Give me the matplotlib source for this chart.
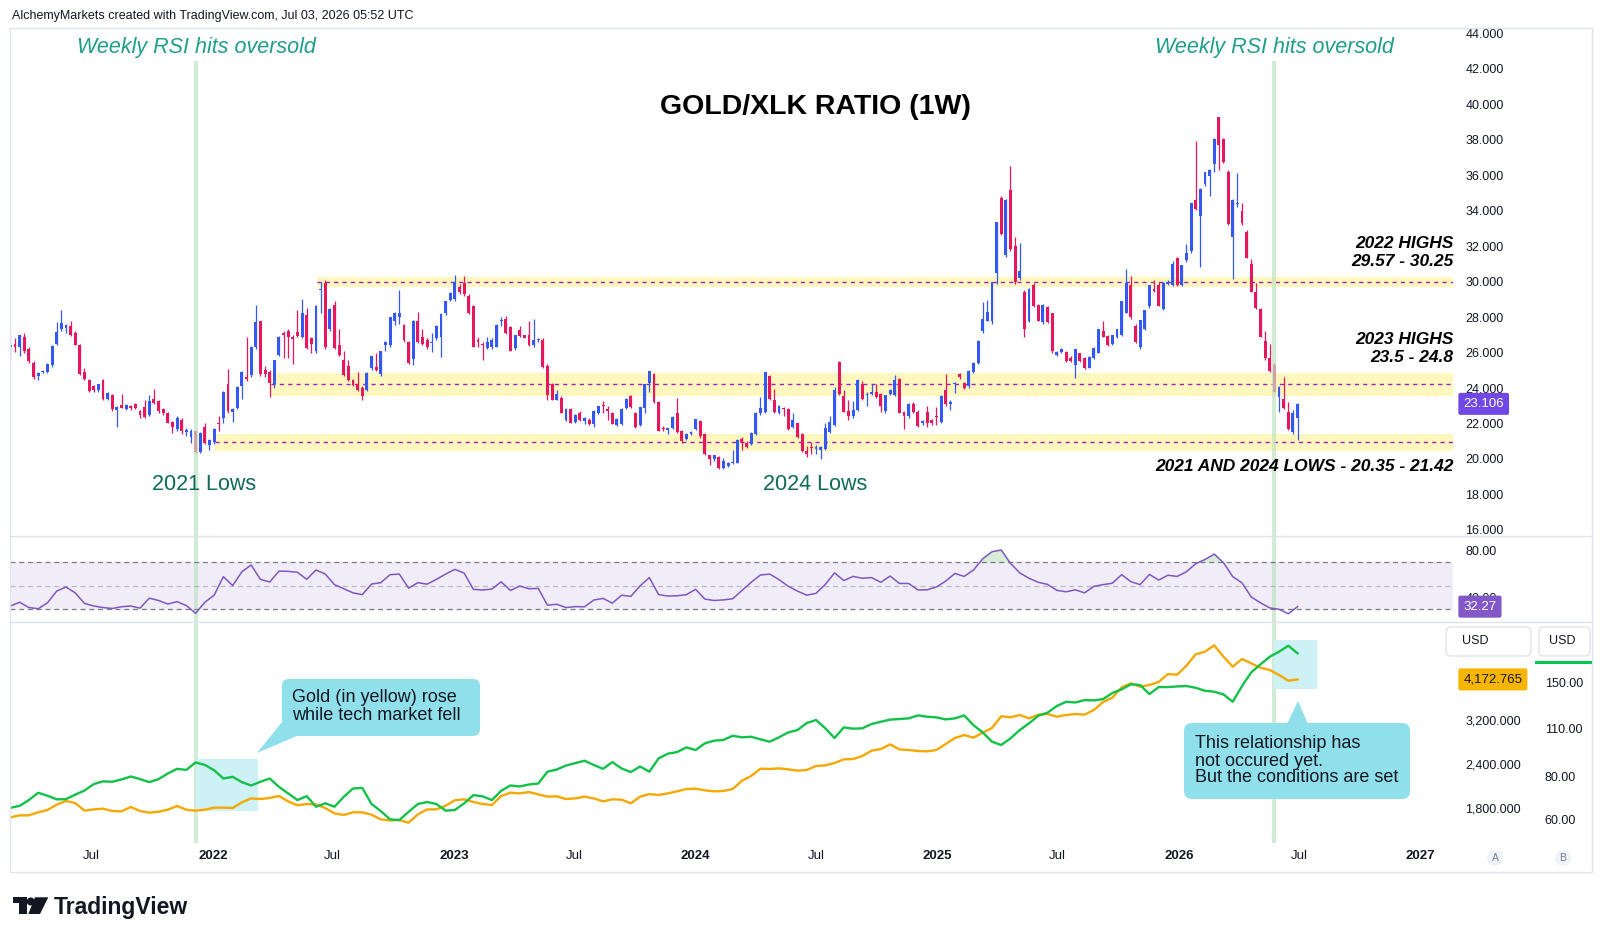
import numpy as np
import pandas as pd
import matplotlib
matplotlib.use("Agg")
import matplotlib.pyplot as plt
import matplotlib.dates as mdates
from matplotlib.ticker import FuncFormatter, NullLocator
from matplotlib.patches import FancyBboxPatch, Polygon, Rectangle, Circle
from matplotlib.lines import Line2D
from matplotlib.transforms import IdentityTransform

# ---- weekly GOLD/XLK candles, first bar 2021-03-01 ----
opens = [
    26.3, 26.5, 26.3, 26.9, 26.2, 25.4, 24.7, 24.9, 24.9, 25.3,
    26.5, 27.3, 27.4, 27.5, 27.1, 26.45, 24.9, 24.45, 24.1, 23.9,
    24.45, 23.4, 23.6, 22.75, 23.05, 22.8, 23.0, 23.1, 22.7, 22.95,
    22.5, 23.4, 23.25, 22.8, 22.6, 22.1, 21.7, 22.2, 21.5, 21.25,
    21.55, 20.4, 21.8, 20.8, 20.95, 22.05, 22.3, 24.2, 22.65, 22.85,
    24.1, 24.6, 24.75, 26.3, 27.75, 25.0, 24.9, 24.25, 25.85, 27.1,
    27.2, 26.9, 27.15, 26.9, 28.1, 26.8, 26.1, 29.5, 29.9, 27.3,
    28.65, 26.45, 25.6, 25.25, 24.45, 24.2, 24.0, 23.9, 25.15, 25.2,
    24.8, 26.4, 26.45, 27.75, 28.0, 27.55, 26.6, 25.65, 27.77, 26.85,
    26.7, 26.55, 26.8, 26.85, 28.25, 28.95, 29.0, 29.7, 29.9, 29.2,
    28.6, 26.7, 26.5, 26.25, 26.3, 26.33, 27.75, 27.9, 27.45, 26.25,
    27.25, 26.98, 26.98, 26.4, 26.7, 26.7, 25.25, 24.25, 23.35, 23.45,
    22.2, 22.8, 22.1, 22.57, 22.16, 22.2, 21.97, 22.6, 23.05, 22.8,
    22.57, 21.9, 21.97, 22.85, 23.55, 22.6, 21.9, 22.9, 24.3, 24.8,
    23.2, 21.75, 21.65, 21.75, 22.57, 21.6, 21.1, 21.4, 21.7, 22.15,
    21.4, 20.2, 19.98, 20.1, 19.47, 19.6, 19.78, 19.8, 21.1, 20.9,
    20.85, 21.4, 22.6, 22.67, 24.68, 23.3, 22.6, 22.85, 22.8, 21.8,
    22.0, 21.4, 20.45, 20.65, 20.58, 20.5, 20.56, 21.5, 21.9, 25.45,
    23.55, 22.7, 22.4, 22.76, 24.2, 23.62, 23.66, 23.75, 23.66, 22.7,
    23.66, 23.6, 24.5, 22.63, 22.4, 23.1, 22.67, 22.05, 22.67, 22.2,
    22.4, 22.1, 23.9, 23.1, 24.2, 24.8, 24.3, 24.1, 24.9, 25.4,
    27.2, 27.8, 27.8, 30.5, 34.7, 31.5, 35.15, 32.0, 30.2, 29.4,
    27.8, 29.8, 28.7, 27.7, 28.55, 28.2, 25.85, 26.05, 26.05, 25.7,
    25.3, 25.95, 25.7, 25.15, 25.7, 26.0, 27.2, 26.95, 26.5, 26.85,
    27.0, 28.25, 29.8, 27.5, 26.3, 27.3, 28.6, 29.6, 29.8, 28.45,
    29.85, 29.8, 31.3, 29.8, 31.2, 31.7, 34.6, 33.7, 35.5, 35.95,
    36.6, 39.29, 38.06, 36.2, 32.5, 34.35, 34.0, 32.8, 30.97, 29.4,
    28.45, 26.67, 25.67, 25.3, 23.5, 23.36, 22.67, 21.5, 22.3,
]
highs = [
    27.1, 26.8, 27.0, 27.1, 26.3, 25.5, 24.9, 25.0, 25.4, 26.4,
    27.7, 28.4, 27.6, 27.8, 27.2, 26.5, 25.1, 24.5, 24.15, 24.25,
    24.5, 23.75, 23.65, 23.0, 23.65, 23.1, 23.05, 23.15, 22.75, 23.3,
    23.6, 23.95, 23.3, 22.85, 22.65, 22.15, 22.45, 22.3, 21.75, 21.7,
    21.6, 21.5, 22.0, 21.1, 21.75, 22.4, 23.85, 25.05, 22.9, 24.1,
    24.95, 26.9, 26.35, 28.65, 27.8, 25.25, 25.0, 25.6, 26.95, 27.2,
    27.35, 27.0, 28.4, 29.0, 28.5, 26.9, 28.65, 30.0, 30.1, 28.5,
    28.9, 27.3, 26.1, 25.6, 24.5, 24.9, 24.1, 24.9, 25.8, 26.0,
    26.1, 26.65, 28.0, 28.3, 29.5, 27.6, 26.65, 27.85, 28.3, 27.35,
    26.8, 27.1, 27.55, 28.2, 28.9, 29.4, 30.35, 29.85, 30.3, 29.3,
    28.7, 26.85, 26.6, 26.9, 26.8, 27.6, 28.0, 28.05, 27.5, 27.0,
    27.5, 27.0, 27.8, 27.9, 26.8, 26.8, 25.35, 24.3, 23.9, 23.55,
    22.85, 22.85, 22.55, 22.7, 22.35, 22.3, 22.75, 23.0, 23.25, 23.0,
    22.65, 22.3, 22.85, 23.45, 23.6, 22.65, 22.95, 24.25, 24.95, 24.85,
    23.25, 21.85, 21.75, 22.4, 23.45, 21.65, 21.45, 21.55, 22.25, 22.2,
    21.45, 20.25, 20.25, 20.15, 20.05, 19.85, 20.5, 21.1, 21.25, 21.0,
    21.5, 22.65, 23.5, 24.9, 24.75, 23.95, 23.05, 22.95, 22.9, 22.6,
    22.05, 21.45, 20.75, 20.95, 20.8, 20.75, 22.05, 22.4, 24.05, 25.5,
    23.9, 23.3, 23.25, 24.5, 24.4, 23.75, 24.2, 24.2, 23.7, 23.6,
    23.95, 24.75, 24.55, 22.7, 23.15, 23.2, 22.75, 22.2, 23.0, 22.25,
    22.95, 23.6, 24.8, 23.3, 24.35, 24.85, 24.35, 25.0, 25.45, 26.7,
    28.85, 28.95, 30.0, 33.35, 34.8, 34.65, 36.5, 32.5, 32.15, 29.5,
    29.65, 29.9, 28.75, 28.75, 28.6, 28.25, 26.1, 26.25, 26.1, 25.8,
    26.2, 26.0, 25.75, 25.8, 26.3, 27.3, 27.75, 27.0, 27.0, 27.35,
    28.9, 30.7, 30.3, 27.6, 27.85, 28.4, 29.8, 30.1, 30.0, 29.95,
    30.1, 31.15, 31.4, 30.95, 32.1, 34.45, 37.9, 35.25, 36.2, 36.35,
    38.1, 39.3, 38.1, 36.3, 34.65, 36.1, 34.45, 32.9, 31.25, 29.9,
    28.5, 27.2, 26.5, 25.4, 24.1, 24.6, 23.2, 22.75, 23.15,
]
lows = [
    25.6, 26.05, 25.8, 26.0, 25.4, 24.5, 24.45, 24.85, 24.85, 25.2,
    26.4, 27.2, 27.1, 26.95, 26.4, 24.75, 24.45, 23.8, 23.75, 23.8,
    23.3, 23.3, 22.7, 21.8, 22.85, 22.75, 22.75, 22.8, 22.3, 22.3,
    22.4, 23.1, 22.6, 22.5, 22.0, 21.45, 21.6, 21.4, 21.3, 20.9,
    20.35, 20.35, 20.85, 20.5, 20.85, 21.55, 22.0, 22.6, 22.1, 22.8,
    23.4, 24.4, 24.6, 26.2, 24.7, 24.6, 23.5, 24.0, 25.8, 25.7,
    25.7, 25.35, 26.85, 26.8, 26.2, 25.95, 26.0, 28.25, 26.2, 27.2,
    26.2, 25.8, 24.7, 24.4, 24.1, 23.85, 23.3, 23.85, 25.0, 24.95,
    24.7, 26.1, 26.3, 27.55, 27.6, 26.6, 25.35, 25.3, 26.55, 26.4,
    26.2, 26.05, 26.7, 25.75, 28.1, 28.9, 28.9, 29.3, 29.2, 28.15,
    26.3, 26.3, 25.55, 26.2, 26.2, 26.3, 27.5, 27.05, 26.1, 26.15,
    26.9, 26.8, 26.35, 26.3, 26.6, 25.15, 23.3, 23.3, 23.3, 22.6,
    22.15, 22.0, 22.05, 22.15, 21.95, 21.9, 21.8, 22.55, 22.6, 22.2,
    21.95, 21.85, 21.9, 22.8, 22.9, 21.75, 21.85, 22.6, 23.8, 23.15,
    21.55, 21.6, 21.4, 21.7, 21.45, 20.9, 21.05, 21.35, 21.65, 21.2,
    20.25, 19.65, 19.9, 19.45, 19.45, 19.55, 19.7, 19.75, 20.5, 20.6,
    20.8, 21.35, 22.5, 22.6, 23.35, 22.6, 22.55, 22.4, 21.65, 21.75,
    21.2, 20.4, 20.1, 20.3, 20.3, 19.98, 20.5, 21.45, 21.85, 23.6,
    22.65, 22.2, 22.3, 22.7, 23.35, 22.99, 23.6, 23.45, 22.67, 22.6,
    23.6, 23.55, 22.6, 21.7, 22.3, 22.6, 21.8, 21.9, 21.8, 21.9,
    21.9, 22.05, 23.0, 22.75, 23.7, 24.5, 23.95, 24.0, 24.85, 25.35,
    27.1, 27.75, 27.6, 29.85, 32.6, 31.4, 31.7, 29.85, 30.1, 26.9,
    27.7, 28.55, 27.75, 27.6, 27.65, 26.0, 25.8, 25.95, 25.45, 25.45,
    24.55, 25.45, 25.05, 25.1, 25.65, 25.95, 26.85, 26.35, 26.45, 26.8,
    26.95, 28.2, 27.9, 26.55, 26.2, 27.25, 28.5, 29.4, 28.6, 28.4,
    29.8, 29.75, 29.75, 29.75, 31.1, 31.6, 34.05, 30.8, 35.4, 34.8,
    36.2, 36.3, 36.7, 33.2, 30.15, 34.2, 33.2, 31.3, 29.4, 28.45,
    26.85, 25.6, 24.9, 23.75, 22.65, 22.8, 21.65, 21.4, 21.07,
]
closes = [
    26.4, 26.3, 27.0, 26.1, 25.5, 24.6, 24.85, 24.95, 25.35, 26.35,
    27.15, 27.65, 27.55, 27.0, 26.45, 24.8, 24.5, 23.85, 23.9, 24.2,
    23.4, 23.7, 22.8, 22.95, 22.9, 23.05, 22.9, 22.85, 22.5, 22.35,
    23.25, 23.15, 22.7, 22.6, 22.05, 21.8, 22.3, 21.55, 21.65, 21.6,
    20.4, 21.45, 20.9, 21.05, 21.7, 21.95, 23.8, 22.7, 22.8, 24.05,
    24.9, 24.5, 26.3, 27.7, 24.8, 24.8, 24.3, 25.55, 26.9, 27.0,
    26.85, 26.75, 26.95, 28.2, 26.25, 26.5, 28.6, 29.6, 26.3, 28.45,
    26.25, 25.85, 24.75, 24.45, 24.15, 23.9, 23.55, 24.85, 25.8, 25.0,
    26.1, 26.6, 28.0, 28.2, 28.25, 26.7, 25.4, 27.8, 26.6, 26.5,
    26.3, 26.6, 27.5, 28.15, 28.9, 29.35, 29.95, 29.4, 29.3, 28.2,
    26.33, 26.6, 26.4, 26.6, 26.7, 27.55, 27.8, 27.1, 26.1, 26.97,
    26.93, 26.83, 26.4, 26.7, 26.75, 25.2, 23.6, 23.35, 23.65, 22.6,
    22.8, 22.05, 22.5, 22.2, 22.3, 21.97, 22.7, 22.98, 22.98, 22.7,
    21.97, 22.25, 22.8, 23.4, 22.95, 21.8, 22.95, 24.2, 24.95, 23.2,
    21.6, 21.7, 21.7, 22.38, 21.5, 21.03, 21.4, 21.5, 22.25, 21.3,
    20.26, 20.0, 20.2, 19.47, 19.9, 19.8, 19.82, 21.07, 20.98, 20.66,
    21.48, 22.6, 22.9, 24.88, 23.38, 22.67, 23.0, 22.8, 21.7, 22.2,
    21.26, 20.45, 20.3, 20.6, 20.62, 20.7, 21.72, 22.07, 23.9, 23.65,
    22.67, 22.45, 22.76, 24.47, 23.4, 23.68, 23.8, 23.5, 22.98, 23.58,
    23.9, 24.45, 22.6, 22.4, 23.1, 22.67, 21.86, 22.16, 22.0, 22.05,
    22.35, 23.55, 23.08, 23.2, 24.3, 24.6, 24.0, 24.97, 25.4, 26.67,
    27.9, 28.3, 29.95, 33.33, 32.7, 34.6, 31.83, 29.95, 30.6, 27.3,
    29.6, 28.6, 27.8, 28.7, 27.7, 26.1, 26.05, 26.2, 25.5, 25.5,
    26.18, 25.5, 25.1, 25.77, 26.28, 27.3, 26.9, 26.4, 26.98, 27.3,
    28.9, 29.93, 28.0, 26.6, 27.83, 28.4, 29.8, 29.48, 28.62, 29.93,
    30.0, 30.97, 29.8, 30.92, 31.6, 34.4, 34.1, 35.2, 36.15, 36.3,
    38.06, 37.7, 36.75, 33.24, 34.6, 34.4, 33.28, 31.34, 29.43, 28.5,
    26.9, 25.67, 24.97, 23.8, 24.08, 22.85, 21.7, 22.57, 23.106,
]

# ---- RSI(14), every second week ----
rsi = [
    32.8, 36, 31.5, 30.5, 35.5, 45.5, 49, 44, 35, 32.8, 31.5, 30.7, 32.2, 32.8, 31,
    39.5, 37.5, 34.5, 36.5, 33.2, 26.6, 36, 42, 57.8, 50.2, 62, 67.7, 55.5, 53.2, 62.5,
    62.3, 61.5, 55.5, 63.5, 60, 51, 47.5, 44, 42.5, 51.5, 52.7, 59.5, 60, 48, 52.7,
    51.4, 55.5, 60, 64, 60.8, 47, 46.4, 47.3, 53.4, 46, 49.8, 47.5, 47.8, 33.5, 34.3,
    31.5, 32.3, 32.1, 37.9, 39.3, 35.2, 42, 41, 50, 57, 42.5, 41.3, 41.5, 42.5, 47,
    38.7, 37.5, 38, 39, 46, 53, 59.2, 60, 55.3, 49.6, 45.5, 42, 43.6, 51.2, 61,
    54.5, 58, 56.4, 57, 53, 58.3, 52, 52, 46.5, 46.6, 49, 54, 60.5, 58, 63.4,
    73, 79, 80.5, 69.1, 61, 56.4, 53, 51.2, 46.2, 44.9, 46.6, 44, 49.5, 51, 52.2,
    59.5, 53.5, 51, 59.7, 54.9, 59, 58, 62, 68.8, 72.4, 77, 69.7, 57.8, 52.5, 40.5,
    35.5, 31.2, 30, 26.2, 32.27,
]

# ---- gold (USD) and XLK (USD), every second week ----
gold = [
    1693, 1716, 1716, 1750, 1777, 1840, 1884, 1860, 1769, 1784, 1792, 1765, 1761, 1812, 1765,
    1746, 1757, 1780, 1824, 1780, 1769, 1780, 1804, 1804, 1800, 1868, 1917, 1909, 1922, 1947,
    1880, 1832, 1848, 1842, 1800, 1738, 1720, 1750, 1750, 1723, 1671, 1660, 1664, 1635, 1727,
    1784, 1784, 1828, 1893, 1905, 1872, 1848, 1836, 1947, 1990, 1981, 1998, 1968, 1939, 1943,
    1909, 1917, 1939, 1917, 1880, 1905, 1901, 1856, 1939, 1972, 1960, 1981, 2007, 2038, 2043,
    2021, 2007, 2012, 2038, 2152, 2219, 2328, 2323, 2333, 2318, 2298, 2308, 2369, 2379, 2416,
    2474, 2480, 2529, 2619, 2647, 2729, 2641, 2630, 2613, 2607, 2630, 2735, 2845, 2901, 2851,
    2946, 3037, 3278, 3256, 3306, 3235, 3314, 3328, 3270, 3306, 3328, 3314, 3416, 3600, 3703,
    3962, 4067, 3979, 4023, 4103, 4323, 4304, 4565, 4916, 5003, 5214, 4842, 4535, 4768, 4635,
    4505, 4437, 4295, 4139, 4172.765,
]
xlk = [
    64.8, 65.7, 68.3, 71.7, 70.3, 68.6, 68.7, 70.8, 72.8, 76.0, 77.4, 77.2, 78.4, 80.0, 78.6,
    77.0, 78.6, 81.6, 84.2, 83.6, 87.9, 86.4, 83.4, 78.9, 79.8, 77.0, 75.3, 77.2, 78.9, 74.6,
    71.4, 68.3, 70.1, 65.3, 66.8, 65.3, 69.8, 73.8, 74.1, 66.5, 63.4, 60.0, 59.7, 63.1, 66.5,
    67.4, 66.5, 63.6, 63.9, 66.8, 70.6, 70.0, 68.3, 72.7, 75.3, 74.8, 75.8, 76.3, 82.6, 83.8,
    86.1, 87.5, 88.9, 86.4, 84.2, 88.1, 84.4, 82.4, 85.5, 82.6, 90.3, 93.2, 94.2, 97.2, 95.5,
    99.9, 101.7, 102.2, 105.1, 104.0, 104.4, 102.6, 101.0, 104.0, 107.5, 109.2, 114.5, 116.8, 110.5, 103.5,
    111.2, 110.2, 110.5, 113.7, 115.5, 117.1, 117.6, 118.1, 120.5, 119.4, 118.9, 117.3, 118.1, 120.5, 112.8,
    107.5, 101.0, 98.8, 103.3, 109.2, 114.2, 120.2, 122.7, 128.3, 132.0, 131.4, 133.5, 133.2, 134.4, 140.0,
    143.5, 148.4, 147.7, 139.0, 145.7, 145.7, 146.3, 146.7, 145.0, 142.1, 141.2, 138.7, 132.0, 146.7, 160.8,
    169.7, 178.6, 184.7, 192.3, 182.7,
]

# support / resistance zones
zone_lo = [20.45, 23.55, 29.7]
zone_hi = [21.42, 24.85, 30.25]
zone_mid = [20.95, 24.2, 29.95]
zone_start = ['2022-01-04', '2022-03-30', '2022-06-07']
oversold_dates = ['2021-12-06', '2026-05-24']
highlight_start = ['2021-12-06', '2026-05-24']
highlight_end = ['2022-03-11', '2026-07-29']
highlight_lo = [1765, 3919]
highlight_hi = [2480, 5401]

tick_dates = ['2021-07-01', '2022-01-01', '2022-07-01', '2023-01-01', '2023-07-01', '2024-01-01',
              '2024-07-01', '2025-01-01', '2025-07-01', '2026-01-01', '2026-07-01', '2027-01-01']
tick_labels = ['Jul', '2022', 'Jul', '2023', 'Jul', '2024', 'Jul', '2025', 'Jul', '2026', 'Jul', '2027']

UP, DOWN = '#3358f4', '#e8175d'
TXT = '#131722'
W, H = 1605, 939

plt.rcParams['font.family'] = ['Liberation Sans', 'DejaVu Sans']
fig = plt.figure(figsize=(W / 100, H / 100), dpi=100)
fig.patch.set_facecolor('white')


def fbox(x0, y0, x1, y1):
    return [x0 / W, 1 - y1 / H, (x1 - x0) / W, (y1 - y0) / H]


def ptext(x, y, s, **kw):
    return fig.text(x / W, 1 - y / H, s, **kw)


L, R = 10.4, 1453
ax = fig.add_axes(fbox(L, 27.6, R, 536))
ax_rsi = fig.add_axes(fbox(L, 536, R, 622), sharex=ax)
ax_g = fig.add_axes(fbox(L, 622, R, 843), sharex=ax)
ax_x = ax_g.twinx()

for a in (ax, ax_rsi, ax_g, ax_x):
    for s in a.spines.values():
        s.set_visible(False)

weeks = pd.date_range('2021-03-01', periods=len(closes), freq='7D')
x_end = pd.Timestamp('2027-02-19')
ax.set_xlim(weeks[0], x_end)

# ---- main pane: candles ----
o = np.array(opens)
hi = np.array(highs)
lo = np.array(lows)
c = np.array(closes)
col = np.where(c >= o, UP, DOWN)
ax.vlines(weeks, lo, hi, colors=col, lw=0.9, zorder=3)
ax.bar(weeks, np.maximum(np.abs(c - o), 0.07), bottom=np.minimum(o, c), width=4.4,
       color=col, linewidth=0, zorder=4)

for s, zl, zh, zm in zip(zone_start, zone_lo, zone_hi, zone_mid):
    ax.fill_between([pd.Timestamp(s), x_end], zl, zh, color='#fff7bd', lw=0, zorder=1)
    ax.hlines(zm, pd.Timestamp(s), x_end, colors='#a020b8', linestyles=(0, (3, 3)), lw=1, zorder=2)

for d in oversold_dates:
    ax.axvline(pd.Timestamp(d), ymax=0.93, color='#bfe3c3', alpha=0.7, lw=3, zorder=5)
    ax_rsi.axvline(pd.Timestamp(d), color='#bfe3c3', alpha=0.7, lw=3, zorder=0.5)
    ax_g.axvline(pd.Timestamp(d), color='#bfe3c3', alpha=0.7, lw=3, zorder=0.5)

ax.set_ylim(15.66, 44.31)
ax.yaxis.tick_right()
ax.set_yticks(np.arange(16, 45, 2))
ax.yaxis.set_major_formatter(FuncFormatter(lambda v, p: f'{v:.3f}'))
ax.tick_params(axis='y', length=0, pad=9, labelsize=9, colors=TXT)
ax.tick_params(axis='x', bottom=False, labelbottom=False)

# ---- RSI pane ----
rsi_x = weeks[::2][:len(rsi)]
r = np.array(rsi)
ax_rsi.axhspan(30, 70, color='#7e57c2', alpha=0.1, lw=0, zorder=0)
for lvl, al in ((70, 1.0), (30, 1.0), (50, 0.45)):
    ax_rsi.axhline(lvl, color='#787b86', lw=0.9, ls=(0, (4, 3)), alpha=al, zorder=1)
ax_rsi.fill_between(rsi_x, 70, r, where=r > 70, interpolate=True, color='#4caf50', alpha=0.22, lw=0)
ax_rsi.plot(rsi_x, r, color='#7e57c2', lw=1.1, zorder=3)
ax_rsi.set_ylim(19.2, 92.4)
ax_rsi.yaxis.tick_right()
ax_rsi.set_yticks([40, 80])
ax_rsi.yaxis.set_major_formatter(FuncFormatter(lambda v, p: f'{v:.2f}'))
ax_rsi.tick_params(axis='y', length=0, pad=9, labelsize=9, colors=TXT)
ax_rsi.tick_params(axis='x', bottom=False, labelbottom=False)

# ---- lower pane: gold vs XLK ----
line_x = weeks[::2][:len(gold)]
for s, e, yl, yh in zip(highlight_start, highlight_end, highlight_lo, highlight_hi):
    x0 = mdates.date2num(pd.Timestamp(s))
    x1 = mdates.date2num(pd.Timestamp(e))
    ax_g.add_patch(Rectangle((x0, yl), x1 - x0, yh - yl, fc='#cdf1f5', ec='none', zorder=0.8))
ax_g.plot(line_x, gold, color='#f5a800', lw=1.7, zorder=3)
ax_x.plot(line_x, xlk, color='#12c14a', lw=1.7, zorder=3)
ax_g.set_yscale('log')
ax_x.set_yscale('log')
ax_g.set_ylim(1432, 6073)
ax_x.set_ylim(51.2, 225.4)

ax_g.yaxis.tick_right()
ax_g.set_yticks([1800, 2400, 3200])
ax_g.yaxis.set_minor_locator(NullLocator())
ax_g.yaxis.set_major_formatter(FuncFormatter(lambda v, p: f'{v:,.3f}'))
ax_g.tick_params(axis='y', length=0, pad=9, labelsize=9, colors=TXT)
ax_x.set_yticks([60, 80, 110, 150])
ax_x.yaxis.set_minor_locator(NullLocator())
ax_x.yaxis.set_major_formatter(FuncFormatter(lambda v, p: f'{v:.2f}'))
ax_x.tick_params(axis='y', length=0, pad=66, labelsize=9, colors=TXT)

ax_g.set_xticks([pd.Timestamp(d) for d in tick_dates])
ax_g.set_xticklabels(tick_labels)
ax_g.tick_params(axis='x', length=0, pad=5, labelsize=9.5, colors=TXT)
for t in ax_g.get_xticklabels():
    if t.get_text() != 'Jul':
        t.set_fontweight('bold')
ax_g.set_xlim(weeks[0], x_end)


# ---- price tags ----
def tag(a, y, s, fc, tc):
    a.text(1.0072, y, s, transform=a.get_yaxis_transform(), ha='left', va='center', fontsize=9.5,
           color=tc, zorder=10, clip_on=False,
           bbox=dict(boxstyle='round,pad=0.38,rounding_size=0.15', fc=fc, ec='none'))


tag(ax, closes[-1], f'{closes[-1]:.3f}', '#7048e8', 'white')
tag(ax_rsi, rsi[-1], f'{rsi[-1]:.2f}', '#8257c8', 'white')
tag(ax_g, gold[-1], f'{gold[-1]:,.3f}', '#f7b500', TXT)

# ---- frame and separators ----
ident = IdentityTransform()
fig.add_artist(Rectangle((10.2, H - 872), 1581.5, 872 - 27.6, transform=ident,
                         fill=False, ec='#e0e3eb', lw=1))
for yy in (536, 622):
    fig.add_artist(Line2D([10.2, 1591.7], [H - yy, H - yy], transform=ident, color='#e0e3eb', lw=1))

# USD scale headers
for x0, x1, tx in ((1446, 1531, 1462), (1539, 1590, 1549)):
    fig.add_artist(FancyBboxPatch((x0, H - 656), x1 - x0, 29, boxstyle='round,pad=0,rounding_size=5',
                                  transform=ident, fc='white', ec='#e0e3eb', lw=1))
    ptext(tx, 641.5, 'USD', fontsize=9, color=TXT, va='center')
fig.add_artist(Line2D([1536, 1590], [H - 661.5, H - 661.5], transform=ident, color='#00c853', lw=2.2))

for cx, lt in ((1495, 'A'), (1563, 'B')):
    fig.add_artist(Circle((cx, H - 858), 8, transform=ident, fc='#f0f3fa', ec='none'))
    ptext(cx, 858, lt, fontsize=7.5, color='#787b86', ha='center', va='center')

# ---- annotations ----
ptext(12, 15.5, 'AlchemyMarkets created with TradingView.com, Jul 03, 2026 05:52 UTC',
      fontsize=9, color=TXT, va='center')
ptext(815, 106.5, 'GOLD/XLK RATIO (1W)', fontsize=20.5, fontweight='bold', color='#000000',
      ha='center', va='center')
for xl in (77, 1155):
    ptext(xl, 53.5, 'Weekly RSI hits oversold', fontsize=15.5, style='italic', color='#1f9e89',
          va='baseline')
ptext(204, 489.5, '2021 Lows', fontsize=15.5, color='#0f6b56', ha='center', va='baseline')
ptext(815.5, 489.5, '2024 Lows', fontsize=15.5, color='#0f6b56', ha='center', va='baseline')

for yy, s in ((243.6, '2022 HIGHS'), (262, '29.57 - 30.25'), (339, '2023 HIGHS'),
              (357.2, '23.5 - 24.8'), (466.8, '2021 AND 2024 LOWS - 20.35 - 21.42')):
    ptext(1453.5, yy, s, fontsize=12.5, fontweight='bold', style='italic', color='#000000',
          ha='right', va='center')

CYAN = '#8fe0eb'
fig.add_artist(FancyBboxPatch((282, H - 736), 198, 57, boxstyle='round,pad=0,rounding_size=7',
                              transform=ident, fc=CYAN, ec='none'))
fig.add_artist(Polygon([(282, H - 722), (297, H - 736), (257, H - 753)], closed=True,
                       transform=ident, fc=CYAN, ec='none'))
ptext(292, 698, 'Gold (in yellow) rose', fontsize=13, color=TXT, va='center')
ptext(292, 716, 'while tech market fell', fontsize=13, color=TXT, va='center')

fig.add_artist(FancyBboxPatch((1184, H - 799), 226, 76, boxstyle='round,pad=0,rounding_size=8',
                              transform=ident, fc=CYAN, ec='none'))
fig.add_artist(Polygon([(1287, H - 724), (1308, H - 724), (1298, H - 701)], closed=True,
                       transform=ident, fc=CYAN, ec='none'))
for yy, s in ((743, 'This relationship has'), (761, 'not occured yet.'), (778, 'But the conditions are set')):
    ptext(1195, yy, s, fontsize=13, color=TXT, va='center')

# ---- TradingView logo ----
logo = '#131722'
fig.add_artist(Rectangle((13.3, H - 903.3), 13.4, 6, transform=ident, fc=logo, ec='none'))
fig.add_artist(Rectangle((19, H - 914), 7.7, 16.7, transform=ident, fc=logo, ec='none'))
fig.add_artist(Circle((30.7, H - 901.5), 4, transform=ident, fc=logo, ec='none'))
fig.add_artist(Polygon([(35, H - 897.3), (48.3, H - 897.3), (40, H - 914), (28.3, H - 914)],
                       closed=True, transform=ident, fc=logo, ec='none'))
ptext(53.5, 914, 'TradingView', fontsize=16.5, fontweight='bold', color=logo, va='baseline')

fig.savefig('out.png', dpi=100, facecolor='white')
